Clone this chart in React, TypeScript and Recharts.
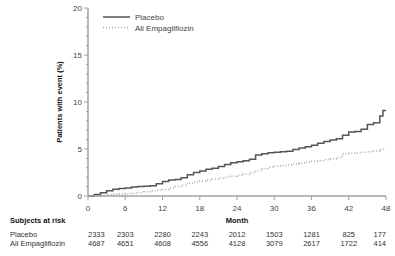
import React from 'react';
import { LineChart, Line, XAxis, YAxis } from 'recharts';

const months = [0,1,2,3,4,5,6,7,8,9,10,11,12,13,14,15,16,17,18,19,20,21,22,23,24,25,26,27,28,29,30,31,32,33,34,35,36,37,38,39,40,41,42,43,44,45,46,47,47.5,48];
const placeboValues = [0,0.15,0.35,0.55,0.72,0.8,0.85,0.95,1.02,1.05,1.1,1.3,1.55,1.7,1.75,1.95,2.25,2.5,2.65,2.85,2.95,3.15,3.35,3.55,3.65,3.75,3.9,4.35,4.5,4.6,4.65,4.7,4.75,4.95,5.1,5.25,5.4,5.6,5.8,5.95,6.1,6.45,6.8,6.85,7.1,7.6,7.8,8.5,9.1,9.1];
const empaValues = [0,0.02,0.08,0.12,0.18,0.22,0.27,0.3,0.38,0.45,0.55,0.6,0.7,0.85,1.0,1.15,1.35,1.5,1.6,1.7,1.8,1.9,2.0,2.1,2.2,2.35,2.5,2.7,2.9,3.05,3.2,3.25,3.3,3.4,3.5,3.6,3.7,3.75,3.85,3.95,4.1,4.5,4.55,4.6,4.65,4.7,4.8,4.95,4.98,5.0];

const xTicks = [0,6,12,18,24,30,36,42,48];
const yTicks = [0,1,2,3,4,5,6,7,8,9,10,11,12,13,14,15,16,17,18,19,20];
const riskPlacebo = [2333,2303,2280,2243,2012,1503,1281,825,177];
const riskEmpa = [4687,4651,4608,4556,4128,3079,2617,1722,414];
const seriesNames = ['Placebo', 'All Empagliflozin'];

const data = months.map((m, i) => ({ month: m, placebo: placeboValues[i], empa: empaValues[i] }));

const FONT = '"Liberation Sans", Arial, sans-serif';
const AXIS = '#a0a0a0';
const PLACEBO_COLOR = '#555';
const EMPA_COLOR = '#aaa';

const YTick = (props: any) => {
  const { x, y, payload } = props;
  const v = payload.value;
  const major = v % 5 === 0;
  return (
    <g>
      <line x1={x - (major ? 4 : 2)} x2={x} y1={y} y2={y} stroke={AXIS} strokeWidth={1} />
      {major && (
        <text x={x - 6} y={y + 3} textAnchor="end" fontSize={8} fill="#444" fontFamily={FONT}>{v}</text>
      )}
    </g>
  );
};

const XTick = (props: any) => {
  const { x, y, payload } = props;
  const v = payload.value;
  const i = xTicks.indexOf(v);
  const anchor = i === 0 ? 'start' : i === xTicks.length - 1 ? 'end' : 'middle';
  return (
    <g>
      <line x1={x} x2={x} y1={y} y2={y + 4} stroke={AXIS} strokeWidth={1} />
      <text x={x} y={y + 15} textAnchor="middle" fontSize={8} fill="#444" fontFamily={FONT}>{v}</text>
      <text x={x} y={y + 41} textAnchor={anchor} fontSize={7.5} fill="#333" fontFamily={FONT}>{riskPlacebo[i]}</text>
      <text x={x} y={y + 50} textAnchor={anchor} fontSize={7.5} fill="#333" fontFamily={FONT}>{riskEmpa[i]}</text>
      {i === 0 && (
        <g>
          <text x={x - 78} y={y + 27} fontSize={7.5} fontWeight="bold" fill="#111" fontFamily={FONT}>Subjects at risk</text>
          <text x={x - 78} y={y + 41} fontSize={7.5} fill="#333" fontFamily={FONT}>{seriesNames[0]}</text>
          <text x={x - 78} y={y + 50} fontSize={7.5} fill="#333" fontFamily={FONT}>{seriesNames[1]}</text>
        </g>
      )}
    </g>
  );
};

const MonthLabel = (props: any) => {
  const vb = props.viewBox;
  return (
    <text x={vb.x + vb.width / 2} y={vb.y + 27} textAnchor="middle" fontSize={7.5} fontWeight="bold" fill="#111" fontFamily={FONT}>Month</text>
  );
};

const YLabel = (props: any) => {
  const vb = props.viewBox;
  const cx = vb.x + 62;
  const cy = vb.y + vb.height / 2;
  return (
    <text x={cx} y={cy} transform={`rotate(-90 ${cx} ${cy})`} textAnchor="middle" fontSize={7.5} fontWeight="bold" fill="#111" fontFamily={FONT}>Patients with event (%)</text>
  );
};

const LegendBox = () => (
  <svg width={110} height={24} style={{ position: 'absolute', left: 103, top: 13 }}>
    <line x1={0} x2={27} y1={4} y2={4} stroke={PLACEBO_COLOR} strokeWidth={1.5} />
    <text x={32} y={7} fontSize={8} fill="#444" fontFamily={FONT}>{seriesNames[0]}</text>
    <line x1={0} x2={27} y1={14.5} y2={14.5} stroke={EMPA_COLOR} strokeWidth={1.5} strokeDasharray="1 2" />
    <text x={32} y={17.5} fontSize={8} fill="#444" fontFamily={FONT}>{seriesNames[1]}</text>
  </svg>
);

export default function App() {
  return (
    <div style={{ position: 'absolute', left: 0, top: 0, width: 395, height: 256, background: '#fff' }}>
      <LineChart width={395} height={256} data={data} margin={{ top: 8, right: 9, bottom: 0, left: 0 }}>
        <XAxis
          dataKey="month"
          type="number"
          domain={[0, 48]}
          ticks={xTicks}
          interval={0}
          height={60}
          tickSize={0}
          tickMargin={0}
          tickLine={false}
          axisLine={{ stroke: AXIS, strokeWidth: 1.5 }}
          tick={<XTick />}
          label={<MonthLabel />}
        />
        <XAxis xAxisId="top" orientation="top" dataKey="month" type="number" domain={[0, 48]} height={0} tick={false} tickLine={false} axisLine={{ stroke: AXIS, strokeWidth: 1.5 }} />
        <YAxis
          type="number"
          domain={[0, 20]}
          ticks={yTicks}
          interval={0}
          width={88}
          tickSize={0}
          tickMargin={0}
          tickLine={false}
          axisLine={{ stroke: AXIS, strokeWidth: 1.5 }}
          tick={<YTick />}
          label={<YLabel />}
        />
        <YAxis yAxisId="right" orientation="right" domain={[0, 20]} width={0} tick={false} tickLine={false} axisLine={{ stroke: AXIS, strokeWidth: 1.5 }} />
        <Line type="stepAfter" dataKey="empa" stroke={EMPA_COLOR} strokeWidth={1.5} strokeDasharray="1 2" dot={false} isAnimationActive={false} />
        <Line type="stepAfter" dataKey="placebo" stroke={PLACEBO_COLOR} strokeWidth={1.5} dot={false} isAnimationActive={false} />
      </LineChart>
      <LegendBox />
    </div>
  );
}
